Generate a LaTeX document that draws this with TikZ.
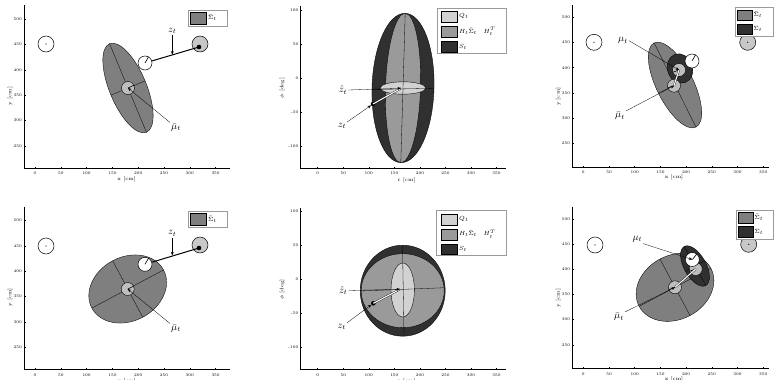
\documentclass[tikz,border=0pt]{standalone}
\usetikzlibrary{arrows.meta}
\definecolor{sigbar}{HTML}{7F7F7F}
\definecolor{sdark}{HTML}{303030}
\definecolor{hsh}{HTML}{9A9A9A}
\definecolor{qlight}{HTML}{D2D2D2}
\definecolor{lmgray}{HTML}{C8C8C8}
\definecolor{mugray}{HTML}{BEBEBE}
\definecolor{legframe}{HTML}{9A9A9A}
\tikzset{
 ticklab/.style={font=\fontsize{4}{5}\selectfont, inner sep=0.5pt},
 axlab/.style={font=\fontsize{5}{6}\selectfont, inner sep=0.5pt},
 mlab/.style={font=\fontsize{10}{12}\selectfont, inner sep=1pt},
 leglab/.style={font=\fontsize{6.5}{7}\selectfont, inner sep=0.5pt, anchor=west},
 axisline/.style={line width=0.5pt},
 ellfill/.style={draw=black, line width=0.35pt},
 axisdiv/.style={line width=0.3pt},
 landmark/.style={circle, draw=black, line width=0.5pt, minimum size=16pt, inner sep=0pt},
 robot/.style={circle, draw=black, fill=white, line width=0.5pt, minimum size=14pt, inner sep=0pt},
 meanc/.style={circle, draw=black, fill=mugray, line width=0.4pt, minimum size=13pt, inner sep=0pt},
 mdot/.style={circle, fill=black, inner sep=0pt, minimum size=4.6pt},
 pointer/.style={line width=0.3pt, -{Stealth[length=3.5pt,width=2.8pt]}},
 heading/.style={line width=0.6pt},
 innov/.style={double=white, double distance=1.1pt, line width=0.35pt},
 legbox/.style={draw=legframe, fill=white, line width=0.5pt},
 swatch/.style={draw=black, line width=0.4pt},
}
\begin{document}
\begin{tikzpicture}[x=1pt,y=-1pt]
\useasboundingbox (0,0) rectangle (774,380);
\fill[white] (0,0) rectangle (774,380);
\clip (0,0) rectangle (774,380);

% ---------- axes (both rows) ----------
\foreach \row/\sh in {t/0,b/201.5}{
\begin{scope}[shift={(0,\sh)}]
 % panel column 1
 \draw[axisline] (24,5) -- (24,168) -- (230,168);
 \foreach \v [count=\k from 0] in {0,50,100,150,200,250,300,350}{
   \draw[axisline] (35+25.8*\k,168) -- ++(0,-1.5);
   \node[ticklab] (a1\row-x\k) at (35+25.8*\k,173.5) {\v};}
 \foreach \v [count=\k from 0] in {500,450,400,350,300,250}{
   \draw[axisline] (24,19+25.4*\k) -- ++(1.5,0);
   \node[ticklab, anchor=east] (a1\row-y\k) at (22.5,19+25.4*\k) {\v};}
 \node[axlab] (a1\row-xl) at (126.7,179.5) {x [cm]};
 \node[axlab, rotate=90] (a1\row-yl) at (10,96) {y [cm]};
 % panel column 2
 \draw[axisline] (300.7,6) -- (300.7,168) -- (506,168);
 \foreach \v [count=\k from 0] in {0,50,100,150,200,250,300,350}{
   \draw[axisline] (317.7+25.55*\k,168) -- ++(0,-1.5);
   \node[ticklab] (a2\row-x\k) at (317.7+25.55*\k,173.5) {\v};}
 \foreach \v [count=\k from 0] in {100,50,0,-50,-100}{
   \draw[axisline] (300.7,10+34*\k) -- ++(1.5,0);
   \node[ticklab, anchor=east] (a2\row-y\k) at (299,10+34*\k) {\v};}
 \node[axlab] (a2\row-xl) at (406.7,180) {r [cm]};
 \node[axlab, rotate=90] (a2\row-yl) at (282,88) {$\phi$ [deg]};
 % panel column 3
 \draw[axisline] (572.3,5) -- (572.3,167) -- (769,167);
 \foreach \v [count=\k from 0] in {0,50,100,150,200,250,300,350}{
   \draw[axisline] (583.3+25.7*\k,167) -- ++(0,-1.5);
   \node[ticklab] (a3\row-x\k) at (583.3+25.7*\k,172.5) {\v};}
 \foreach \v [count=\k from 0] in {500,450,400,350,300,250}{
   \draw[axisline] (572.3,17.3+25.2*\k) -- ++(1.5,0);
   \node[ticklab, anchor=east] (a3\row-y\k) at (570.8,17.3+25.2*\k) {\v};}
 \node[axlab] (a3\row-xl) at (674,177.5) {x [cm]};
 \node[axlab, rotate=90] (a3\row-yl) at (558.3,96.7) {y [cm]};
\end{scope}}

% ---------- panel 1 (top left) ----------
\node[landmark, fill=white] (l1a) at (46,44) {};
\fill (l1a.center) circle (0.6);
\node[landmark, fill=lmgray] (l2a) at (200,44) {};
\node[mdot] (zda) at (199,47) {};
\begin{scope}[shift={(128,88)}, rotate=-67.4]
 \draw[ellfill, fill=sigbar] (0,0) ellipse [x radius=48, y radius=18.5];
 \draw[axisdiv] (-48,0) -- (48,0) (0,-18.5) -- (0,18.5);
\end{scope}
\node[robot] (ra) at (145,63) {};
\draw[heading] (ra.center) -- (ra.60);
\draw[line width=1pt] (ra) -- (zda.center);
\node[meanc] (ma) at (128,88) {};
\draw[heading] (ma.center) -- (ma.25);
\node[mlab] (zla) at (172.3,31) {$z_t$};
\coordinate (zha) at (172.3,54.6);
\draw[pointer] (zla) -- (zha);
\node[mlab] (mba) at (176,127.5) {$\bar\mu_t$};
\draw[pointer] (mba.north west) -- (ma.center);
\draw[legbox] (188,10) rectangle (227,26);
\draw[swatch, fill=sigbar] (190,12) rectangle (206,24);
\node[leglab] (lga) at (207.5,18) {$\bar\Sigma_t$};

% ---------- panel 2 (top middle) ----------
\begin{scope}[shift={(403,88)}, rotate=-1.7]
 \draw[ellfill, fill=sdark] (0,0) ellipse [x radius=31, y radius=74.7];
 \draw[ellfill, fill=hsh] (0,0) ellipse [x radius=17.5, y radius=74.7];
\end{scope}
\draw[ellfill, fill=qlight] (403,88) ellipse [x radius=22.8, y radius=6.2];
\begin{scope}[shift={(403,88)}, rotate=-1.7]
 \draw[axisdiv] (0,-74.7) -- (0,74.7);
\end{scope}
\draw[axisdiv] (372,89.5) -- (434,88.3);
\coordinate (cb) at (401,88.3);
\node[mdot] (zdb) at (373,104) {};
\draw[innov] (zdb.center) -- (cb);
\node[mlab] (zhb) at (343,90) {$\hat z_t$};
\draw[pointer] (zhb.east) -- (cb);
\node[mlab] (zlb) at (342,126) {$z_t$};
\draw[pointer] (zlb.north east) -- (zdb);
\draw[legbox] (437,8) rectangle (506,53);
\draw[swatch, fill=qlight] (441,11) rectangle (457,22);
\draw[swatch, fill=hsh] (441,26) rectangle (457,37);
\draw[swatch, fill=sdark] (441,41) rectangle (457,52);
\node[leglab] (lgb1) at (458.5,16.5) {$Q_t$};
\node[leglab] (lgb2) at (458.5,31.5) {$H_t\bar\Sigma_t\quad H_t^T$};
\node[leglab] (lgb3) at (458.5,46.5) {$S_t$};

% ---------- panel 3 (top right) ----------
\node[landmark, fill=white] (l1c) at (594,42.3) {};
\fill (l1c.center) circle (0.6);
\node[landmark, fill=lmgray] (l2c) at (747.7,42.3) {};
\fill (l2c.center) circle (0.6);
\begin{scope}[shift={(675,85)}, rotate=-63.6]
 \draw[ellfill, fill=sigbar] (0,0) ellipse [x radius=47, y radius=18.5];
 \draw[axisdiv] (-47,0) -- (47,0) (0,-18.5) -- (0,18.5);
\end{scope}
\begin{scope}[shift={(680,68.5)}, rotate=-70]
 \draw[ellfill, fill=sdark] (0,0) ellipse [x radius=15, y radius=12.5];
\end{scope}
\node[meanc] (mbc) at (674,85.7) {};
\draw[heading] (mbc.center) -- (mbc.200);
\node[meanc] (mc) at (679,70) {};
\draw[heading] (mc.center) -- (mc.200);
\draw[innov] (mbc.center) -- (mc.center);
\node[robot] (rc) at (692,61) {};
\draw[heading] (rc.center) -- (rc.60);
\node[mlab] (mlc) at (623,40.7) {$\mu_t$};
\draw[pointer] (mlc.east) -- (mc.center);
\node[mlab] (mblc) at (620,116) {$\bar\mu_t$};
\draw[pointer] (mblc.north east) -- (mbc.center);
\draw[legbox] (735,7.3) rectangle (773,36);
\draw[swatch, fill=sigbar] (737,10) rectangle (752,20.5);
\draw[swatch, fill=sdark] (737,24) rectangle (752,34);
\node[leglab] (lgc1) at (753,15) {$\bar\Sigma_t$};
\node[leglab] (lgc2) at (753,29) {$\Sigma_t$};

% ---------- panel 4 (bottom left) ----------
\node[landmark, fill=white] (l1d) at (46,246) {};
\fill (l1d.center) circle (0.6);
\node[landmark, fill=lmgray] (l2d) at (200,245) {};
\node[mdot] (zdd) at (199,248) {};
\begin{scope}[shift={(127.7,289)}, rotate=28]
 \draw[ellfill, fill=sigbar] (0,0) ellipse [x radius=40.6, y radius=32];
 \draw[axisdiv] (-40.6,0) -- (40.6,0) (0,-32) -- (0,32);
\end{scope}
\node[robot] (rd) at (145,264.3) {};
\draw[heading] (rd.center) -- (rd.60);
\draw[line width=1pt] (rd) -- (zdd.center);
\node[meanc] (md) at (127.7,289) {};
\draw[heading] (md.center) -- (md.25);
\node[mlab] (zld) at (172.3,233.5) {$z_t$};
\coordinate (zhd) at (172.3,255.4);
\draw[pointer] (zld) -- (zhd);
\node[mlab] (mbd) at (176,328.5) {$\bar\mu_t$};
\draw[pointer] (mbd.north west) -- (md.center);
\draw[legbox] (188,211.5) rectangle (227,227.5);
\draw[swatch, fill=sigbar] (190,213.5) rectangle (206,225.5);
\node[leglab] (lgd) at (207.5,219.5) {$\bar\Sigma_t$};

% ---------- panel 5 (bottom middle) ----------
\draw[ellfill, fill=sdark] (402.7,290.7) ellipse [x radius=42.5, y radius=45.5];
\draw[ellfill, fill=hsh] (402.7,290.7) ellipse [x radius=41.5, y radius=37];
\draw[ellfill, fill=qlight] (402.7,290) ellipse [x radius=11.7, y radius=27];
\draw[axisdiv] (402.5,245.2) -- (404,336);
\draw[axisdiv] (360.5,291) -- (445,287.7);
\coordinate (ce) at (400,289.3);
\node[mdot] (zde) at (373.3,303.3) {};
\draw[innov] (zde.center) -- (ce);
\node[mlab] (zhe) at (343.3,290.5) {$\hat z_t$};
\draw[pointer] (zhe.east) -- (ce);
\node[mlab] (zle) at (341.7,327) {$z_t$};
\draw[pointer] (zle.north east) -- (zde);
\draw[legbox] (436.7,210.7) rectangle (506,255.3);
\draw[swatch, fill=qlight] (441,213.7) rectangle (457,224.7);
\draw[swatch, fill=hsh] (441,228.7) rectangle (457,239.7);
\draw[swatch, fill=sdark] (441,243.7) rectangle (457,254.3);
\node[leglab] (lge1) at (458.5,219) {$Q_t$};
\node[leglab] (lge2) at (458.5,234) {$H_t\bar\Sigma_t\quad H_t^T$};
\node[leglab] (lge3) at (458.5,249) {$S_t$};

% ---------- panel 6 (bottom right) ----------
\node[landmark, fill=white] (l1f) at (595,245) {};
\fill (l1f.center) circle (0.6);
\node[landmark, fill=lmgray] (l2f) at (748.7,244.3) {};
\fill (l2f.center) circle (0.6);
\begin{scope}[shift={(675,287.3)}, rotate=28]
 \draw[ellfill, fill=sigbar] (0,0) ellipse [x radius=40.6, y radius=32];
 \draw[axisdiv] (-40.6,0) -- (40.6,0) (0,-32) -- (0,32);
\end{scope}
\begin{scope}[shift={(695,266)}, rotate=-61]
 \draw[ellfill, fill=sdark] (0,0) ellipse [x radius=22.3, y radius=11];
 \draw[axisdiv] (-22.3,0) -- (22.3,0) (0,-11) -- (0,11);
\end{scope}
\node[meanc] (mbf) at (675,287.3) {};
\draw[heading] (mbf.center) -- (mbf.200);
\node[meanc] (mf) at (695.7,269) {};
\draw[heading] (mf.center) -- (mf.200);
\draw[innov] (mbf.center) -- (mf.center);
\node[robot] (rf) at (692.3,259.5) {};
\draw[heading] (rf.center) -- (rf.50);
\node[mlab] (mlf) at (637.3,239.3) {$\mu_t$};
\draw[pointer] (mlf.south east) -- (rf.center);
\node[mlab] (mblf) at (619,317) {$\bar\mu_t$};
\draw[pointer] (mblf.north east) -- (mbf.center);
\draw[legbox] (736.7,210) rectangle (773.5,239.3);
\draw[swatch, fill=sigbar] (738.5,212.5) rectangle (753,223);
\draw[swatch, fill=sdark] (738.5,226.5) rectangle (753,237);
\node[leglab] (lgf1) at (754,217.5) {$\bar\Sigma_t$};
\node[leglab] (lgf2) at (754,231.5) {$\Sigma_t$};
\end{tikzpicture}
\end{document}
